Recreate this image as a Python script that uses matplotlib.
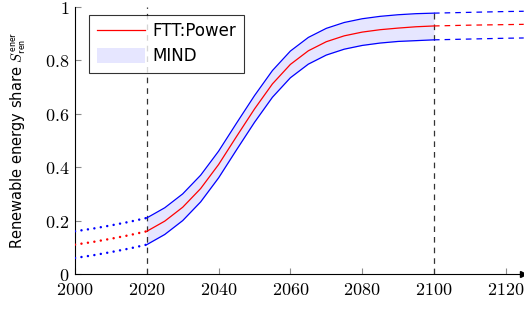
import matplotlib
matplotlib.use("Agg")
import matplotlib.pyplot as plt
from matplotlib.lines import Line2D
from matplotlib.patches import Patch

plt.rcParams['mathtext.fontset'] = 'cm'
plt.rcParams['font.family'] = ['DejaVu Sans']

# --- data ---
years_hist = [2000, 2005, 2010, 2015, 2020]
center_hist = [0.110, 0.120, 0.132, 0.145, 0.160]
upper_hist = [0.160, 0.170, 0.182, 0.195, 0.210]
lower_hist = [0.060, 0.070, 0.082, 0.095, 0.110]

years_mid = [2020, 2025, 2030, 2035, 2040, 2045, 2050, 2055, 2060, 2065,
             2070, 2075, 2080, 2085, 2090, 2095, 2100]
center_mid = [0.160, 0.198, 0.250, 0.320, 0.410, 0.515, 0.618, 0.712, 0.785,
              0.836, 0.870, 0.892, 0.906, 0.915, 0.921, 0.926, 0.929]
upper_mid = [0.210, 0.248, 0.300, 0.370, 0.460, 0.565, 0.668, 0.762, 0.835,
             0.886, 0.920, 0.942, 0.956, 0.965, 0.971, 0.975, 0.977]
lower_mid = [0.110, 0.148, 0.200, 0.270, 0.360, 0.465, 0.568, 0.662, 0.735,
             0.786, 0.820, 0.842, 0.856, 0.865, 0.871, 0.874, 0.877]

years_fut = [2100, 2110, 2120, 2125]
center_fut = [0.929, 0.932, 0.934, 0.935]
upper_fut = [0.977, 0.980, 0.983, 0.984]
lower_fut = [0.877, 0.880, 0.883, 0.884]

xticks = [2000, 2020, 2040, 2060, 2080, 2100, 2120]
yticks = [0, 0.2, 0.4, 0.6, 0.8, 1]
ytick_labels = ['0', '0.2', '0.4', '0.6', '0.8', '1']

blue = (0, 0, 1)
red = (1, 0, 0)
fillc = (0.9, 0.9, 1.0)

fig = plt.figure(figsize=(5.24, 3.09), dpi=100)
ax = fig.add_axes([75/524, 35/309, 448/524, 267/309])

ax.fill_between(years_mid, lower_mid, upper_mid, color=fillc, lw=0, zorder=1)

dot = (0, (0.01, 2.6))
dash = (0, (4.5, 4))
for yv, c in [(upper_hist, blue), (center_hist, red), (lower_hist, blue)]:
    ax.plot(years_hist, yv, color=c, lw=1.8, linestyle=dot,
            dash_capstyle='round', zorder=3)
for yv, c in [(upper_mid, blue), (center_mid, red), (lower_mid, blue)]:
    ax.plot(years_mid, yv, color=c, lw=0.9, zorder=3,
            solid_joinstyle='round')
for yv, c in [(upper_fut, blue), (center_fut, red), (lower_fut, blue)]:
    ax.plot(years_fut, yv, color=c, lw=0.9, linestyle=dash, zorder=3, clip_on=False)

vdash = (0, (4.5, 4))
ax.plot([2020, 2020], [0, 1], color='0.2', lw=0.9, linestyle=vdash, zorder=2)
ax.plot([2100, 2100], [0, upper_mid[-1]], color='0.2', lw=0.9,
        linestyle=vdash, zorder=2)

ax.set_xlim(2000, 2124.8)
ax.set_ylim(0, 1)
ax.set_xticks(xticks)
ax.set_xticklabels([f'${t}$' for t in xticks], fontsize=13)
ax.set_yticks(yticks)
ax.set_yticklabels([f'${t}$' for t in ytick_labels], fontsize=13)
ax.tick_params(direction='in', length=4.5, width=0.8, color='0.55')
ax.tick_params(axis='y', pad=4)
ax.tick_params(axis='x', pad=5)

for s in ['top', 'right']:
    ax.spines[s].set_visible(False)
ax.spines['left'].set_linewidth(0.8)
ax.spines['bottom'].set_linewidth(0.8)
ax.plot(1, 0, marker='>', color='k', markersize=4, transform=ax.transAxes,
        clip_on=False, zorder=5)

ax.set_ylabel(r'Renewable energy share $S^{\mathsf{ener}}_{\mathsf{ren}}$',
              fontsize=10.5)
ax.yaxis.set_label_coords(-0.106, 0.5)

handles = [Line2D([0], [0], color=red, lw=0.9),
           Patch(facecolor=fillc, edgecolor='none')]
leg = ax.legend(handles, ['FTT:Power', 'MIND'], loc='upper left',
                bbox_to_anchor=(14/448, 1 - 8/267), fontsize=12,
                frameon=True, fancybox=False, edgecolor='k',
                handlelength=2.9, handleheight=1.0, handletextpad=0.45,
                borderpad=0.45, labelspacing=0.4, borderaxespad=0)
leg.get_frame().set_linewidth(0.8)
leg.set_zorder(10)

fig.savefig('out.png', dpi=100)
